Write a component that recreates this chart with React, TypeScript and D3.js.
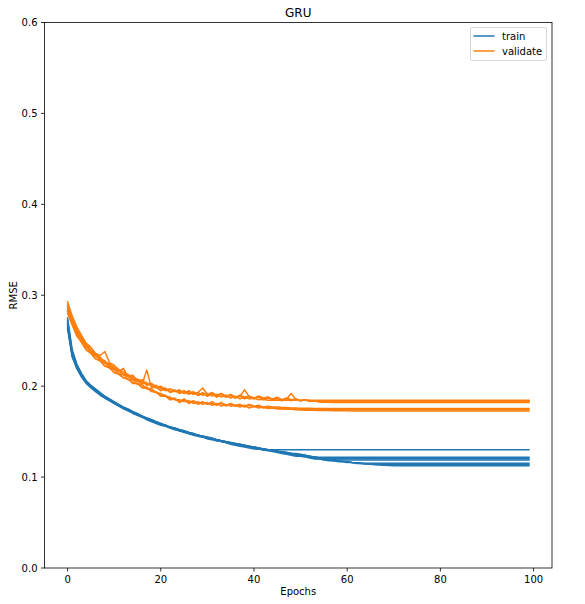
import React from 'react';
import * as d3 from 'd3';

// history was padded with the last value after early stopping, up to this epoch count
const EPOCHS = 100;
const xTicks = [0, 20, 40, 60, 80, 100];
const yTicks = [0, 0.1, 0.2, 0.3, 0.4, 0.5, 0.6];
const seriesNames = ['train', 'validate'];
const colors = ['#1f77b4', '#ff7f0e'];

// train RMSE per run (until the run stopped)
const trainA = [
  0.275, 0.240, 0.224, 0.214, 0.206, 0.201, 0.197, 0.193, 0.189, 0.186,
  0.183, 0.180, 0.177, 0.175, 0.172, 0.170, 0.167, 0.165, 0.163, 0.161,
  0.159, 0.157, 0.155, 0.154, 0.152, 0.151, 0.149, 0.148, 0.146, 0.145,
  0.144, 0.142, 0.141, 0.140, 0.139, 0.138, 0.137, 0.136, 0.135, 0.134,
  0.133, 0.132, 0.131, 0.1302,
];
const trainB1 = [
  0.268, 0.235, 0.221, 0.211, 0.204, 0.199, 0.195, 0.191, 0.188, 0.184,
  0.181, 0.179, 0.176, 0.173, 0.171, 0.169, 0.166, 0.164, 0.162, 0.160,
  0.158, 0.156, 0.155, 0.153, 0.151, 0.150, 0.148, 0.147, 0.146, 0.144,
  0.143, 0.142, 0.141, 0.139, 0.138, 0.137, 0.136, 0.135, 0.134, 0.133,
  0.132, 0.131, 0.130, 0.130, 0.129, 0.128, 0.127, 0.126, 0.1255, 0.125,
  0.124, 0.123, 0.1225, 0.122, 0.1218,
];
const trainB2 = [
  0.272, 0.237, 0.223, 0.213, 0.205, 0.200, 0.196, 0.192, 0.188, 0.185,
  0.182, 0.179, 0.176, 0.174, 0.171, 0.169, 0.167, 0.164, 0.162, 0.160,
  0.158, 0.157, 0.155, 0.153, 0.152, 0.150, 0.149, 0.147, 0.146, 0.145,
  0.143, 0.142, 0.141, 0.140, 0.139, 0.137, 0.136, 0.135, 0.134, 0.133,
  0.133, 0.132, 0.131, 0.130, 0.129, 0.129, 0.128, 0.127, 0.126, 0.126,
  0.125, 0.124, 0.123, 0.122, 0.121, 0.1205, 0.1203,
];
const trainB3 = [
  0.265, 0.233, 0.220, 0.211, 0.204, 0.199, 0.195, 0.191, 0.187, 0.184,
  0.181, 0.178, 0.176, 0.173, 0.171, 0.168, 0.166, 0.164, 0.161, 0.160,
  0.158, 0.156, 0.154, 0.153, 0.151, 0.150, 0.148, 0.147, 0.145, 0.144,
  0.143, 0.142, 0.140, 0.139, 0.138, 0.137, 0.136, 0.135, 0.134, 0.133,
  0.132, 0.131, 0.131, 0.130, 0.129, 0.128, 0.127, 0.127, 0.126, 0.125,
  0.124, 0.124, 0.123, 0.122, 0.121, 0.1205, 0.120, 0.1194, 0.1189,
];
const trainC1 = [
  0.270, 0.236, 0.222, 0.212, 0.205, 0.200, 0.196, 0.192, 0.188, 0.185,
  0.182, 0.179, 0.176, 0.174, 0.171, 0.169, 0.167, 0.164, 0.162, 0.160,
  0.158, 0.157, 0.155, 0.153, 0.152, 0.150, 0.149, 0.147, 0.146, 0.145,
  0.143, 0.142, 0.141, 0.140, 0.139, 0.137, 0.136, 0.135, 0.134, 0.133,
  0.132, 0.131, 0.130, 0.130, 0.129, 0.128, 0.127, 0.126, 0.125, 0.124,
  0.123, 0.123, 0.122, 0.121, 0.120, 0.119, 0.119, 0.118, 0.118, 0.117,
  0.117, 0.116, 0.1158, 0.1155, 0.1153, 0.1152,
];
const trainC2 = [
  0.263, 0.232, 0.219, 0.210, 0.203, 0.198, 0.194, 0.190, 0.187, 0.184,
  0.181, 0.178, 0.175, 0.173, 0.170, 0.168, 0.166, 0.163, 0.161, 0.159,
  0.157, 0.156, 0.154, 0.152, 0.151, 0.149, 0.148, 0.146, 0.145, 0.144,
  0.142, 0.141, 0.140, 0.139, 0.138, 0.136, 0.135, 0.134, 0.133, 0.132,
  0.131, 0.131, 0.130, 0.129, 0.128, 0.127, 0.126, 0.125, 0.124, 0.123,
  0.123, 0.122, 0.121, 0.120, 0.120, 0.119, 0.118, 0.118, 0.117, 0.117,
  0.116, 0.116, 0.115, 0.115, 0.1145, 0.1142, 0.114, 0.1139, 0.1138,
];
const trainC3 = [
  0.267, 0.234, 0.221, 0.212, 0.205, 0.200, 0.196, 0.192, 0.188, 0.185,
  0.182, 0.179, 0.177, 0.174, 0.172, 0.169, 0.167, 0.165, 0.163, 0.161,
  0.159, 0.157, 0.155, 0.154, 0.152, 0.151, 0.149, 0.148, 0.146, 0.145,
  0.144, 0.143, 0.141, 0.140, 0.139, 0.138, 0.137, 0.136, 0.135, 0.134,
  0.133, 0.132, 0.131, 0.130, 0.129, 0.128, 0.128, 0.127, 0.126, 0.125,
  0.124, 0.123, 0.122, 0.122, 0.121, 0.120, 0.119, 0.119, 0.118, 0.1175,
  0.117, 0.116, 0.1155, 0.115, 0.1145, 0.114, 0.1136, 0.1132, 0.1129, 0.1127,
  0.1125,
];

// validation RMSE per run
const valA = [
  0.293, 0.277, 0.265, 0.256, 0.247, 0.243, 0.236, 0.234, 0.238, 0.226,
  0.223, 0.218, 0.216, 0.211, 0.212, 0.206, 0.207, 0.202, 0.203, 0.199,
  0.200, 0.196, 0.197, 0.194, 0.196, 0.192, 0.194, 0.191, 0.193, 0.190,
  0.192, 0.189, 0.191, 0.188, 0.190, 0.187, 0.189, 0.186, 0.188, 0.186,
  0.187, 0.185, 0.1855, 0.1846,
];
const valB1 = [
  0.288, 0.272, 0.263, 0.252, 0.247, 0.239, 0.236, 0.230, 0.228, 0.222,
  0.221, 0.216, 0.2197, 0.210, 0.210, 0.205, 0.205, 0.201, 0.202, 0.198,
  0.199, 0.195, 0.197, 0.194, 0.195, 0.192, 0.195, 0.191, 0.193, 0.198,
  0.191, 0.193, 0.190, 0.192, 0.189, 0.191, 0.188, 0.190, 0.188, 0.189,
  0.187, 0.189, 0.187, 0.188, 0.186, 0.188, 0.185, 0.187, 0.185, 0.186,
  0.184, 0.185, 0.184, 0.1838, 0.1836,
];
const valB2 = [
  0.284, 0.271, 0.258, 0.252, 0.243, 0.239, 0.233, 0.231, 0.225, 0.224,
  0.218, 0.217, 0.212, 0.211, 0.207, 0.206, 0.202, 0.2178, 0.198, 0.199,
  0.195, 0.197, 0.193, 0.195, 0.192, 0.194, 0.191, 0.193, 0.190, 0.192,
  0.189, 0.192, 0.188, 0.191, 0.188, 0.190, 0.187, 0.189, 0.196, 0.188,
  0.186, 0.189, 0.186, 0.188, 0.185, 0.187, 0.185, 0.186, 0.184, 0.186,
  0.184, 0.185, 0.1835, 0.1833, 0.183, 0.1829, 0.1828,
];
const valB3 = [
  0.290, 0.275, 0.261, 0.254, 0.244, 0.240, 0.234, 0.232, 0.226, 0.225,
  0.220, 0.218, 0.213, 0.213, 0.208, 0.208, 0.204, 0.204, 0.200, 0.201,
  0.197, 0.198, 0.194, 0.196, 0.193, 0.195, 0.192, 0.194, 0.190, 0.193,
  0.189, 0.192, 0.188, 0.191, 0.188, 0.190, 0.187, 0.189, 0.186, 0.189,
  0.186, 0.188, 0.185, 0.187, 0.185, 0.186, 0.184, 0.186, 0.192, 0.185,
  0.184, 0.185, 0.183, 0.184, 0.1826, 0.1824, 0.1822, 0.1821, 0.182,
];
const valC1 = [
  0.282, 0.269, 0.256, 0.249, 0.240, 0.237, 0.230, 0.228, 0.222, 0.221,
  0.215, 0.214, 0.209, 0.208, 0.204, 0.203, 0.199, 0.199, 0.195, 0.194,
  0.190, 0.190, 0.186, 0.187, 0.183, 0.186, 0.182, 0.184, 0.181, 0.183,
  0.180, 0.183, 0.180, 0.182, 0.179, 0.181, 0.179, 0.180, 0.178, 0.180,
  0.178, 0.179, 0.177, 0.178, 0.177, 0.177, 0.1765, 0.1765, 0.176, 0.176,
  0.1758, 0.1757, 0.1756, 0.1755, 0.1754, 0.1754, 0.1753, 0.1753, 0.1753, 0.1753,
  0.1753, 0.1753, 0.1753, 0.1753, 0.1753, 0.1753,
];
const valC2 = [
  0.280, 0.267, 0.255, 0.248, 0.240, 0.236, 0.230, 0.228, 0.222, 0.220,
  0.215, 0.213, 0.209, 0.208, 0.203, 0.203, 0.198, 0.198, 0.194, 0.193,
  0.189, 0.189, 0.185, 0.186, 0.182, 0.185, 0.181, 0.183, 0.180, 0.182,
  0.180, 0.181, 0.179, 0.181, 0.178, 0.180, 0.178, 0.179, 0.177, 0.179,
  0.177, 0.178, 0.176, 0.177, 0.176, 0.176, 0.1755, 0.1752, 0.175, 0.1748,
  0.1746, 0.1745, 0.1744, 0.1743, 0.1742, 0.1742, 0.1741, 0.1741, 0.174, 0.174,
  0.174, 0.174, 0.174, 0.174, 0.174, 0.174, 0.174, 0.174, 0.174,
];
const valC3 = [
  0.286, 0.270, 0.261, 0.249, 0.244, 0.236, 0.234, 0.228, 0.226, 0.220,
  0.219, 0.213, 0.213, 0.207, 0.207, 0.202, 0.202, 0.197, 0.197, 0.193,
  0.192, 0.189, 0.188, 0.185, 0.185, 0.183, 0.184, 0.181, 0.183, 0.180,
  0.182, 0.179, 0.181, 0.178, 0.180, 0.178, 0.179, 0.177, 0.179, 0.176,
  0.178, 0.176, 0.177, 0.1755, 0.176, 0.175, 0.1752, 0.1745, 0.1746, 0.174,
  0.1738, 0.1736, 0.1735, 0.1734, 0.1733, 0.1732, 0.1731, 0.173, 0.173, 0.1729,
  0.1729, 0.1728, 0.1728, 0.1728, 0.1728, 0.1728, 0.1728, 0.1728, 0.1728, 0.1728,
  0.1728,
];

const runs = [
  [trainA, valA],
  [trainB1, valB1],
  [trainB2, valB2],
  [trainB3, valB3],
  [trainC1, valC1],
  [trainC2, valC2],
  [trainC3, valC3],
];

const FONT = 'DejaVu Sans, sans-serif';

// keras history padded with the last value after the run stopped
const padHistory = (vals: number[]): [number, number][] => {
  const pts: [number, number][] = vals.map((v, i) => [i, v]);
  pts.push([EPOCHS - 1, vals[vals.length - 1]]);
  return pts;
};

export default function App() {
  const width = 585;
  const height = 604;
  const left = 44.5, right = 552, top = 22.5, bottom = 568;

  const x = d3.scaleLinear().domain([-4.95, 103.95]).range([left, right]);
  const y = d3.scaleLinear().domain([0, 0.6]).range([bottom, top]);
  const line = d3.line<[number, number]>().x(d => x(d[0])).y(d => y(d[1]));

  const legX = 470.5, legY = 27.5;

  return (
    <svg width={width} height={height} style={{ position: 'absolute', left: 0, top: 0, background: '#fff' }}
      fontFamily={FONT}>
      <rect x={0} y={0} width={width} height={height} fill="#fff" />
      <defs>
        <clipPath id="plot">
          <rect x={left} y={top} width={right - left} height={bottom - top} />
        </clipPath>
      </defs>

      <g clipPath="url(#plot)" fill="none" strokeWidth={1.5} strokeLinejoin="round" strokeLinecap="square">
        {runs.map((r, i) => (
          <g key={i}>
            <path d={line(padHistory(r[0])) || ''} stroke={colors[0]} />
            <path d={line(padHistory(r[1])) || ''} stroke={colors[1]} />
          </g>
        ))}
      </g>

      {/* spines */}
      <rect x={left} y={top} width={right - left} height={bottom - top} fill="none" stroke="#000" strokeWidth={0.8} />

      {/* x axis */}
      {xTicks.map(t => (
        <g key={t}>
          <line x1={x(t)} x2={x(t)} y1={bottom} y2={bottom + 3.5} stroke="#000" strokeWidth={0.8} />
          <text x={x(t)} y={bottom + 15} fontSize={10} textAnchor="middle" fill="#000">{t}</text>
        </g>
      ))}
      <text x={(left + right) / 2} y={595} fontSize={10} textAnchor="middle" fill="#000">Epochs</text>

      {/* y axis */}
      {yTicks.map(t => (
        <g key={t}>
          <line x1={left - 3.5} x2={left} y1={y(t)} y2={y(t)} stroke="#000" strokeWidth={0.8} />
          <text x={left - 7} y={y(t)} dy="0.36em" fontSize={10} textAnchor="end" fill="#000">{d3.format('.1f')(t)}</text>
        </g>
      ))}
      <text transform={`translate(16.5,${(top + bottom) / 2}) rotate(-90)`} fontSize={10} textAnchor="middle" fill="#000">RMSE</text>

      {/* title */}
      <text x={(left + right) / 2} y={16.5} fontSize={12} textAnchor="middle" fill="#000">GRU</text>

      {/* legend */}
      <rect x={legX} y={legY} width={76} height={33} rx={2} fill="#fff" fillOpacity={0.8} stroke="#ccc" strokeOpacity={0.8} strokeWidth={1} />
      {seriesNames.map((name, i) => (
        <g key={name}>
          <line x1={legX + 3} x2={legX + 24} y1={legY + 8.5 + i * 15} y2={legY + 8.5 + i * 15} stroke={colors[i]} strokeWidth={1.5} />
          <text x={legX + 31.5} y={legY + 8.5 + i * 15} dy="0.36em" fontSize={10} fill="#000">{name}</text>
        </g>
      ))}
    </svg>
  );
}
